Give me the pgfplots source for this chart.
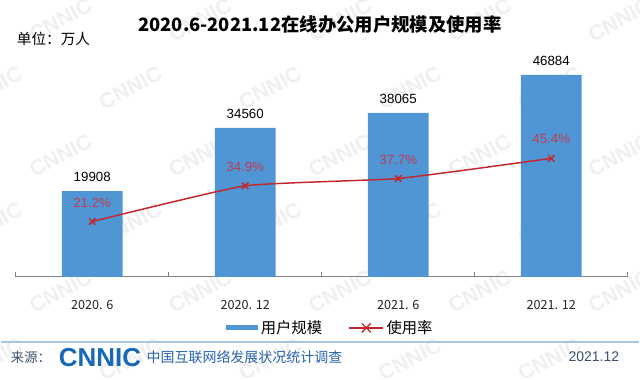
\documentclass[border=0pt]{standalone}
\usepackage{pgfplots}
\pgfplotsset{compat=1.18}
\usepackage{fontspec}
\setmainfont{Liberation Sans}
\newfontfamily\cjk{Noto Sans CJK SC}
\definecolor{barblue}{RGB}{80,150,213}
\definecolor{linered}{RGB}{196,38,44}
\definecolor{pctred}{RGB}{190,60,80}
\definecolor{sepblue}{RGB}{170,198,222}
\definecolor{logoblue}{RGB}{24,104,184}
\definecolor{footblue}{RGB}{40,100,175}
\definecolor{footgray}{RGB}{60,80,110}
\begin{document}
\begin{tikzpicture}[x=0.75pt,y=0.75pt]
\begin{scope}[shift={(-15,-102.5)}]
\path[use as bounding box, fill=white] (0,0) rectangle (640,380);
\foreach \i in {0,...,5}{
  \foreach \j in {0,...,5}{
    \node[rotate=28, text=black!6, font=\bfseries\fontsize{16}{16}\selectfont] at ({\i*140+mod(\j,2)*70-10},{\j*68+20}) {CNNIC};
  }
}
\end{scope}
\begin{axis}[
  scale only axis, width=460.1pt, height=163.1pt,
  xmin=-0.5, xmax=3.5, ymin=0, ymax=50350,
  axis x line=bottom, axis y line=none,
  x axis line style={-, draw=black!50, line width=0.6pt},
  xtick={0,1,2,3},
  xticklabels={2020. 6, 2020. 12, 2021. 6, 2021. 12},
  xticklabel style={font=\cjk\fontsize{9.5}{9.5}\selectfont, text=black!85, yshift=-14pt},
  major tick length=0pt,
  extra x ticks={-0.5,0.5,1.5,2.5,3.5},
  extra x tick labels={},
  extra x tick style={tick align=inside, major tick length=4pt, tick style={draw=black!50, line width=0.6pt}},
  /pgf/number format/assume math mode=true,
  clip=false,
  legend style={at={(0.5147,-0.235)}, anchor=center, draw=none, fill=none,
    font=\cjk\fontsize{11.5}{11.5}\selectfont, legend columns=2,
    /tikz/every even column/.append style={column sep=18pt}},
]
\addplot[ybar, bar width=45.75pt, fill=barblue, draw=none,
  legend image code/.code={\fill[barblue] (0pt,-1.9pt) rectangle (24pt,1.9pt);},
  nodes near coords={\pgfmathprintnumber[fixed,precision=0,1000 sep={}]{\pgfplotspointmeta}},
  every node near coord/.append style={anchor=center, yshift=10.5pt, font=\fontsize{10}{10}\selectfont, text=black}]
  coordinates {(0,19908) (1,34560) (2,38065) (3,46884)};
\addlegendentry{用户规模}
% usage rate (percent) drawn against a right-hand scale: 1% = 605.6 units of the left scale
\addplot[smooth, tension=0.25, color=linered, line width=1.1pt, mark=x, mark size=3.4pt,
  mark options={line width=1.1pt, color=linered},
  legend image code/.code={\draw[linered, line width=1pt] (0pt,0pt) -- (25.5pt,0pt);
     \draw[linered, line width=1pt] (9.35pt,-3.4pt) -- (16.15pt,3.4pt) (9.35pt,3.4pt) -- (16.15pt,-3.4pt);},
  y filter/.expression={y*605.6}, point meta=rawy,
  nodes near coords={\pgfmathprintnumber[fixed,precision=1,fixed zerofill]{\pgfplotspointmeta}\%},
  every node near coord/.append style={anchor=center, yshift=14.3pt, font=\fontsize{10}{10}\selectfont, text=pctred}]
  coordinates {(0,21.2) (1,34.9) (2,37.7) (3,45.4)};
\addlegendentry{使用率}
\end{axis}
\begin{scope}[shift={(-15,-102.5)}]
\node[font=\cjk\bfseries\fontsize{13.8}{13.8}\selectfont] at (320,355) {2020.6-2021.12在线办公用户规模及使用率};
\node[anchor=west, font=\cjk\fontsize{11}{11}\selectfont, inner sep=0pt] at (16,341) {单位：万人};
\draw[sepblue, line width=1.1pt] (0,37) -- (640,37);
\node[anchor=west, font=\cjk\fontsize{10}{10}\selectfont, text=footgray, inner sep=0pt] at (10,22) {来源：};
\node[anchor=west, font=\bfseries\fontsize{19.5}{19.5}\selectfont, text=logoblue, inner sep=0pt] at (58,22) {CNNIC};
\node[anchor=west, font=\cjk\fontsize{10.5}{10.5}\selectfont, text=footblue, inner sep=0pt] at (146,22) {中国互联网络发展状况统计调查};
\node[anchor=east, font=\fontsize{10.5}{10.5}\selectfont, text=footgray, inner sep=0pt] at (620,22) {2021.12};
\end{scope}
\end{tikzpicture}
\end{document}
